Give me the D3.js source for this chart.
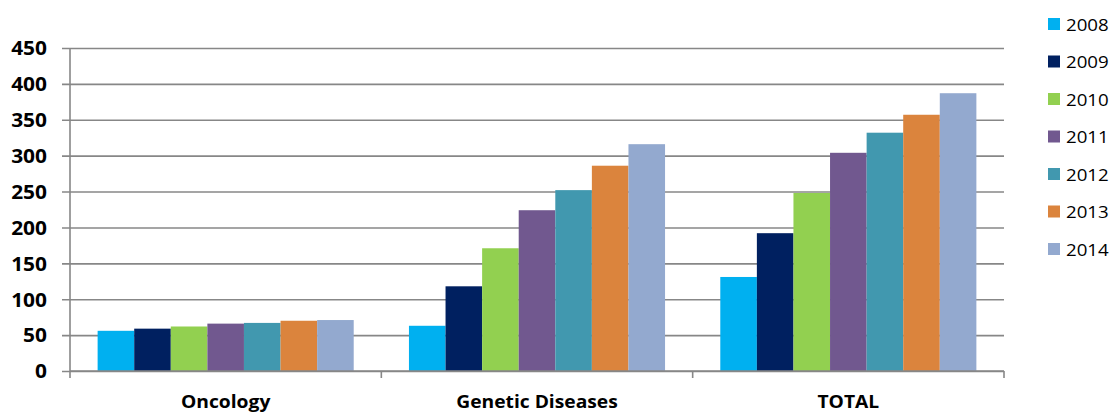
<!DOCTYPE html>
<html>
<head>
<meta charset="utf-8">
<script src="https://cdn.jsdelivr.net/npm/d3@7"></script>
<style>
  html, body { margin: 0; padding: 0; background: #fff; }
  svg { display: block; }
  text { font-family: "Open Sans", sans-serif; fill: #000; }
</style>
</head>
<body>
<svg id="chart" width="1110" height="415"></svg>
<script>
const categories = ['Oncology', 'Genetic Diseases', 'TOTAL'];
const years = ['2008', '2009', '2010', '2011', '2012', '2013', '2014'];
const colors = ['#00b0f0', '#002060', '#92d050', '#71588f', '#4198af', '#db843d', '#93a9cf'];
// one array per category, in year order
const oncology = [56, 59, 62, 66, 67, 70, 71];
const genetic = [63, 118, 171, 224, 252, 286, 316];
const total = [131, 192, 248, 304, 332, 357, 387];
const yTicks = [0, 50, 100, 150, 200, 250, 300, 350, 400, 450];

const series = [oncology, genetic, total];

var svg = d3.select('#chart');
const plotLeft = 70, plotRight = 1004, plotTop = 48, plotBottom = 371;
const gridColor = '#878787';
const stretch = 1.1; // the source text is a bit wider than Open Sans

var x = d3.scaleBand().domain(categories).range([plotLeft, plotRight]);
var xInner = d3.scaleBand().domain(years)
  .range([0, x.bandwidth()])
  .paddingOuter(0.755)
  .paddingInner(0);
var y = d3.scaleLinear().domain([0, 450]).range([plotBottom, plotTop]);

// gridlines + y axis
var yAxis = d3.axisLeft(y).tickValues(yTicks).tickSize(-(plotRight - plotLeft));
var gy = svg.append('g').attr('transform', `translate(${plotLeft},0)`).call(yAxis);
gy.select('.domain').remove();
gy.selectAll('.tick line')
  .attr('x1', -8)
  .attr('stroke', gridColor)
  .attr('stroke-width', 1.6);
gy.selectAll('.tick text')
  .attr('x', -23 / stretch)
  .attr('dy', '0.36em')
  .attr('transform', `scale(${stretch},1)`)
  .attr('font-size', 19)
  .attr('font-weight', 'bold')
  .attr('font-family', '"Open Sans", sans-serif')
  .attr('fill', '#000');
svg.append('line')
  .attr('x1', plotLeft).attr('x2', plotLeft)
  .attr('y1', plotTop).attr('y2', plotBottom)
  .attr('stroke', gridColor).attr('stroke-width', 1.6);

// bars
var groups = svg.append('g').selectAll('g')
  .data(categories)
  .join('g')
  .attr('transform', c => `translate(${x(c)},0)`);

groups.selectAll('rect')
  .data((c, i) => series[i].map((v, j) => ({ year: years[j], value: v, color: colors[j] })))
  .join('rect')
  .attr('x', d => xInner(d.year))
  .attr('width', xInner.bandwidth())
  .attr('y', d => y(d.value))
  .attr('height', d => y(0) - y(d.value))
  .attr('fill', d => d.color);

// x axis with category boundary ticks
svg.append('line')
  .attr('x1', plotLeft).attr('x2', plotRight)
  .attr('y1', plotBottom).attr('y2', plotBottom)
  .attr('stroke', gridColor).attr('stroke-width', 1.6);
var bounds = categories.map(c => x(c)).concat([plotRight]);
svg.append('g').selectAll('line')
  .data(bounds)
  .join('line')
  .attr('x1', d => d).attr('x2', d => d)
  .attr('y1', plotBottom).attr('y2', plotBottom + 7)
  .attr('stroke', gridColor).attr('stroke-width', 1.6);

svg.append('g').selectAll('text')
  .data(categories)
  .join('text')
  .attr('transform', c => `translate(${x(c) + x.bandwidth() / 2},408) scale(${stretch},1)`)
  .attr('text-anchor', 'middle')
  .attr('font-size', 17.5)
  .attr('font-weight', 'bold')
  .text(c => c);

// legend
var legend = svg.append('g').selectAll('g')
  .data(years)
  .join('g')
  .attr('transform', (d, i) => `translate(1048,${24 + i * 37.5})`);
legend.append('rect')
  .attr('x', 0).attr('y', -6)
  .attr('width', 12).attr('height', 12)
  .attr('fill', (d, i) => colors[i]);
legend.append('text')
  .attr('transform', `translate(18,6.5) scale(${stretch},1)`)
  .attr('font-size', 17)
  .text(d => d);
</script>
</body>
</html>
